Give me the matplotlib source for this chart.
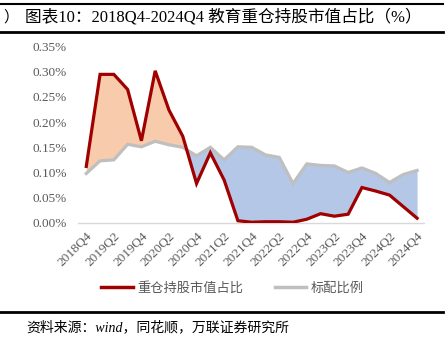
import matplotlib.pyplot as plt
import numpy as np
from matplotlib.lines import Line2D

plt.rcParams['font.family'] = ['Liberation Serif', 'Noto Sans CJK SC']

# Quarter labels, 2018Q4 .. 2024Q4
quarters = ['2018Q4', '2019Q1', '2019Q2', '2019Q3', '2019Q4', '2020Q1', '2020Q2',
            '2020Q3', '2020Q4', '2021Q1', '2021Q2', '2021Q3', '2021Q4', '2022Q1',
            '2022Q2', '2022Q3', '2022Q4', '2023Q1', '2023Q2', '2023Q3', '2023Q4',
            '2024Q1', '2024Q2', '2024Q3', '2024Q4']

# Education sector heavy-holding market value share (%)
heavy_share = [0.112, 0.295, 0.295, 0.265, 0.163, 0.302, 0.224, 0.172, 0.078, 0.139,
               0.085, 0.004, 0.001, 0.002, 0.002, 0.001, 0.007, 0.018, 0.013, 0.017,
               0.070, 0.063, 0.055, 0.032, 0.009]

# Standard allocation ratio (%)
standard_ratio = [0.098, 0.123, 0.125, 0.156, 0.151, 0.162, 0.155, 0.150, 0.133, 0.150,
                  0.125, 0.151, 0.150, 0.135, 0.130, 0.078, 0.117, 0.114, 0.113, 0.100,
                  0.109, 0.098, 0.080, 0.096, 0.104]

yticks = [0.0, 0.05, 0.10, 0.15, 0.20, 0.25, 0.30, 0.35]

red = '#A00000'
grey = '#BFBFBF'
orange_fill = '#F8CBAD'
blue_fill = '#B4C7E7'
text_grey = '#595959'

fig = plt.figure(figsize=(4.47, 3.53), dpi=100)
ax = fig.add_axes([0.1745, 0.369, 0.774, 0.4987])

x = np.arange(len(quarters))
h = np.array(heavy_share)
s = np.array(standard_ratio)

ax.fill_between(x, h, s, where=h >= s, interpolate=True, color=orange_fill, linewidth=0)
ax.fill_between(x, h, s, where=h <= s, interpolate=True, color=blue_fill, linewidth=0)
ax.plot(x, s, color=grey, linewidth=2.3, solid_joinstyle='miter', zorder=3)
ax.plot(x, h, color=red, linewidth=2.3, solid_joinstyle='miter', zorder=4)

ax.set_xlim(-0.6, 24.5)
ax.set_ylim(0, 0.35)
ax.set_yticks(yticks)
ax.set_yticklabels([f'{v:.2f}%' for v in yticks], fontsize=9.5, color=text_grey)
ax.set_xticks(x[::2])
ax.set_xticklabels(quarters[::2], rotation=45, ha='right', rotation_mode='anchor',
                   fontsize=9.5, color=text_grey)
ax.tick_params(axis='y', length=0, pad=8)
ax.tick_params(axis='x', length=0, pad=5)

for side in ['top', 'right', 'left']:
    ax.spines[side].set_visible(False)
ax.spines['bottom'].set_color('#D9D9D9')
ax.spines['bottom'].set_linewidth(1.0)

# legend
handles = [Line2D([0], [0], color=red, linewidth=2.5),
           Line2D([0], [0], color=grey, linewidth=2.5)]
fig.legend(handles, ['重仓持股市值占比', '标配比例'], loc='center',
           bbox_to_anchor=(0.52, 0.184), ncol=2, frameon=False,
           labelcolor=text_grey, handlelength=2.4, handletextpad=0.3, columnspacing=2.4,
           prop={'family': ['Noto Sans CJK SC'], 'size': 9.5})

# title and frame lines
fig.text(0.008, 0.952, '）', fontsize=11, va='center', family=['Noto Sans CJK SC'])
fig.text(0.056, 0.952, '图表10：2018Q4-2024Q4 教育重仓持股市值占比（%）', fontsize=12,
         va='center', family=['Liberation Serif', 'Noto Sans CJK SC'])
fig.add_artist(Line2D([0, 0.99], [0.989, 0.989], color='black', linewidth=1.5))
fig.add_artist(Line2D([0, 0.99], [0.909, 0.909], color='black', linewidth=2.0))
fig.add_artist(Line2D([0, 0.99], [0.117, 0.117], color='black', linewidth=2.0))

fig.text(0.06, 0.073, '资料来源：wind，同花顺，万联证券研究所', fontsize=10, va='center',
         style='italic', family=['Liberation Serif', 'Noto Sans CJK SC'])

fig.savefig('out.png', dpi=100)
